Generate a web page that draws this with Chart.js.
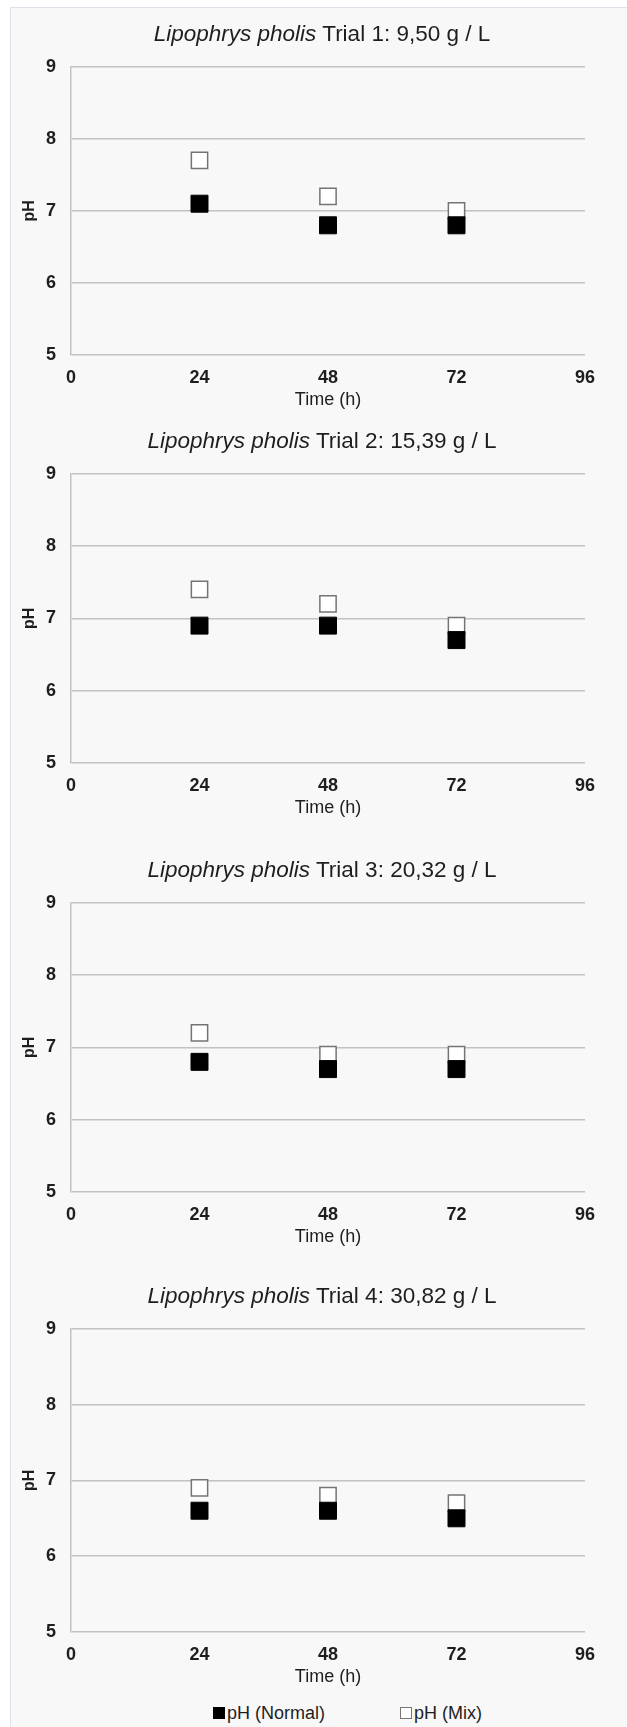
<!DOCTYPE html>
<html lang="en">
<head>
<meta charset="utf-8">
<title>Lipophrys pholis pH</title>
<script src="https://cdn.jsdelivr.net/npm/chart.js@4.4.1/dist/chart.umd.min.js"></script>
<style>
  html, body { margin: 0; padding: 0; background: #fff; }
  body {
    position: relative; width: 627px; height: 1727px; overflow: hidden;
    font-family: "Liberation Sans", Arial, sans-serif; color: #1e1e1e;
  }
  #frame {
    position: absolute; left: 10px; top: 7px; width: 640px; height: 1740px;
    background: #f8f8f8; border: 1px solid #dde2ea;
  }
  canvas { position: absolute; left: 0; z-index: 1; }
  .trial-title {
    position: absolute; left: 22px; width: 600px; height: 26px;
    text-align: center; font-size: 22.5px; line-height: 26px; z-index: 2;
  }
  .legend-item {
    position: absolute; top: 1701px; height: 24px; line-height: 24px;
    font-size: 18px; display: flex; align-items: center; z-index: 2;
  }
  .legend-box { width: 12px; height: 12px; box-sizing: border-box; margin-right: 2px; }
</style>
</head>
<body>
<div id="frame"></div>
<script>
(function() {
  'use strict';
  // 時間（横軸）
  const hours = [24, 48, 72];
  const timeTicks = [0, 24, 48, 72, 96];
  const phTicks = [5, 6, 7, 8, 9];
  // タイトル
  const species = 'Lipophrys pholis';
  const trialTexts = [
    'Trial 1: 9,50 g / L',
    'Trial 2: 15,39 g / L',
    'Trial 3: 20,32 g / L',
    'Trial 4: 30,82 g / L'
  ];
  // 系列名
  const seriesNames = ['pH (Normal)', 'pH (Mix)'];
  // pH 値（試行ごと）
  const phNormal1 = [7.1, 6.8, 6.8];
  const phMix1 = [7.7, 7.2, 7.0];
  const phNormal2 = [6.9, 6.9, 6.7];
  const phMix2 = [7.4, 7.2, 6.9];
  const phNormal3 = [6.8, 6.7, 6.7];
  const phMix3 = [7.2, 6.9, 6.9];
  const phNormal4 = [6.6, 6.6, 6.5];
  const phMix4 = [6.9, 6.8, 6.7];

  const normals = [phNormal1, phNormal2, phNormal3, phNormal4];
  const mixes = [phMix1, phMix2, phMix3, phMix4];

  // 各グラフのプロット領域（上端と高さ）
  const panels = [
    { plotTop: 61, plotHeight: 294 },
    { plotTop: 468, plotHeight: 295 },
    { plotTop: 897, plotHeight: 295 },
    { plotTop: 1323, plotHeight: 309 }
  ];
  const gridColor = '#c2c2c2';
  const textColor = '#1e1e1e';

  Chart.defaults.font.family = '"Liberation Sans", Arial, sans-serif';
  Chart.defaults.color = textColor;

  // タイトル（HTML）
  function addTitle(index) {
    const titleElem = document.createElement('div');
    titleElem.className = 'trial-title';
    titleElem.style.top = (panels[index].plotTop - 27 - 13) + 'px';
    const italicElem = document.createElement('i');
    italicElem.textContent = species;
    titleElem.appendChild(italicElem);
    titleElem.appendChild(document.createTextNode(' ' + trialTexts[index]));
    document.body.appendChild(titleElem);
  }

  // 点データ
  function toPoints(values) {
    return hours.map(function(h, i) {
      return { x: h, y: values[i] };
    });
  }

  // グラフ描画
  function drawTrial(index) {
    const panel = panels[index];
    const canvas = document.createElement('canvas');
    canvas.width = 627;
    canvas.height = panel.plotHeight + 80;
    canvas.style.top = (panel.plotTop - 20) + 'px';
    document.body.appendChild(canvas);

    new Chart(canvas.getContext('2d'), {
      type: 'scatter',
      data: {
        datasets: [{
          label: seriesNames[0],
          data: toPoints(normals[index]),
          pointStyle: 'rect',
          pointRadius: 12,
          pointHoverRadius: 12,
          backgroundColor: '#000',
          borderColor: '#000',
          borderWidth: 1,
        }, {
          label: seriesNames[1],
          data: toPoints(mixes[index]),
          pointStyle: 'rect',
          pointRadius: 11.5,
          pointHoverRadius: 11.5,
          backgroundColor: '#fff',
          borderColor: '#747474',
          borderWidth: 1.5,
        }],
      },
      options: {
        responsive: false,
        animation: false,
        layout: { padding: { top: 20, left: 0, right: 42, bottom: 0 } },
        plugins: {
          legend: { display: false },
          tooltip: { enabled: false },
        },
        scales: {
          x: {
            type: 'linear',
            min: 0,
            max: 96,
            afterBuildTicks: function(scale) {
              scale.ticks = timeTicks.map(function(v) { return { value: v }; });
            },
            afterFit: function(scale) { scale.height = 60; },
            grid: { display: false },
            border: { display: false },
            ticks: {
              autoSkip: false,
              maxRotation: 0,
              padding: 4,
              color: textColor,
              font: { size: 18, weight: 'bold' },
            },
            title: {
              display: true,
              text: 'Time (h)',
              color: textColor,
              font: { size: 18 },
              padding: { top: 0, bottom: 4 },
            },
          },
          y: {
            min: 5,
            max: 9,
            afterBuildTicks: function(scale) {
              scale.ticks = phTicks.map(function(v) { return { value: v }; });
            },
            afterFit: function(scale) { scale.width = 71; },
            grid: { color: gridColor, lineWidth: 1.5, drawTicks: false },
            border: { display: true, color: gridColor, width: 1.5 },
            ticks: {
              padding: 15,
              color: textColor,
              font: { size: 18, weight: 'bold' },
            },
            title: {
              display: true,
              text: 'pH',
              color: textColor,
              font: { size: 16, weight: 'bold' },
              padding: { top: 20, bottom: 0 },
            },
          },
        },
      },
    });
  }

  // 凡例（HTML）
  function addLegend() {
    const lefts = [213, 400];
    const boxStyles = [
      'background:#000;',
      'background:#fff;border:1px solid #777;'
    ];
    seriesNames.forEach(function(name, i) {
      const itemElem = document.createElement('div');
      itemElem.className = 'legend-item';
      itemElem.style.left = lefts[i] + 'px';
      const boxElem = document.createElement('span');
      boxElem.className = 'legend-box';
      boxElem.style.cssText = boxStyles[i];
      const textElem = document.createElement('span');
      textElem.textContent = name;
      itemElem.appendChild(boxElem);
      itemElem.appendChild(textElem);
      document.body.appendChild(itemElem);
    });
  }

  for (let i = 0; i < panels.length; i++) {
    addTitle(i);
    drawTrial(i);
  }
  addLegend();
})();
</script>
</body>
</html>
